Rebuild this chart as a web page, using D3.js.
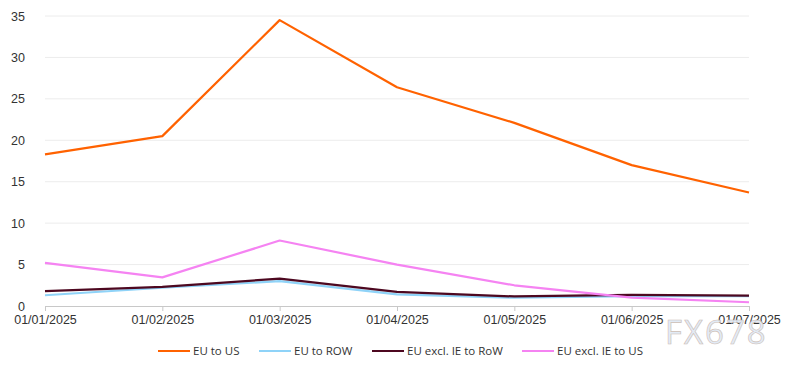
<!DOCTYPE html>
<html>
<head>
<meta charset="utf-8">
<script src="https://cdn.jsdelivr.net/npm/d3@7"></script>
<style>
  body { margin: 0; background: #fff; }
  svg { font-family: "Open Sans", "Noto Sans", sans-serif; }
</style>
</head>
<body>
<svg id="chart" width="793" height="368"></svg>
<script>
// month labels on the x axis
const months = ["01/01/2025", "01/02/2025", "01/03/2025", "01/04/2025", "01/05/2025", "01/06/2025", "01/07/2025"];
const yTicks = [0, 5, 10, 15, 20, 25, 30, 35];

const euToUs = [18.3, 20.5, 34.5, 26.4, 22.1, 17.0, 13.7];
const euToRow = [1.3, 2.2, 3.0, 1.4, 1.0, 1.2, 1.2];
const euExIeToRow = [1.8, 2.3, 3.3, 1.7, 1.15, 1.35, 1.25];
const euExIeToUs = [5.2, 3.45, 7.9, 5.0, 2.5, 1.0, 0.45];

const seriesNames = ["EU to US", "EU to ROW", "EU excl. IE to RoW", "EU excl. IE to US"];
const seriesColors = ["#ff6200", "#8fd3f8", "#4d0820", "#f583f2"];

const series = [euToUs, euToRow, euExIeToRow, euExIeToUs].map(function(vals, i) {
  return { name: seriesNames[i], color: seriesColors[i], values: vals };
});

const margin = { top: 16, right: 44, bottom: 62, left: 45 };
const svg = d3.select("#chart"),
  width = 793 - margin.left - margin.right,
  height = 368 - margin.top - margin.bottom,
  g = svg.append("g").attr("transform", "translate(" + margin.left + "," + margin.top + ")");

const x = d3.scalePoint().domain(months).range([0, width]);
const y = d3.scaleLinear().domain([0, 35]).range([height, 0]);

// horizontal grid
g.selectAll(".grid")
  .data(yTicks.filter(function(d) { return d > 0; }))
  .enter()
  .append("line")
  .attr("x1", 0)
  .attr("x2", width)
  .attr("y1", function(d) { return y(d); })
  .attr("y2", function(d) { return y(d); })
  .attr("stroke", "#ececec")
  .attr("stroke-width", 1);

// y labels
const yAxis = g.append("g")
  .call(d3.axisLeft(y).tickValues(yTicks).tickSize(0).tickPadding(20));
yAxis.select(".domain").remove();
yAxis.selectAll("text").attr("fill", "#333").style("font-size", "12.5px");

// x axis
const xAxis = g.append("g")
  .attr("transform", "translate(0," + height + ")")
  .call(d3.axisBottom(x).tickSizeInner(5).tickSizeOuter(0).tickPadding(4));
xAxis.select(".domain").attr("stroke", "#c8c8c8");
xAxis.selectAll(".tick line").attr("stroke", "#c8c8c8");
xAxis.selectAll("text").attr("fill", "#333").style("font-size", "12.5px");

const line = d3.line()
  .x(function(d, i) { return x(months[i]); })
  .y(function(d) { return y(d); });

g.selectAll(".series")
  .data(series)
  .enter()
  .append("path")
  .attr("fill", "none")
  .attr("stroke", function(d) { return d.color; })
  .attr("stroke-width", 2.2)
  .attr("stroke-linejoin", "round")
  .attr("d", function(d) { return line(d.values); });

// legend
const legendX = [158, 259, 372, 522];
const legend = svg.append("g").attr("transform", "translate(0,351)");
const item = legend.selectAll(".item")
  .data(series)
  .enter()
  .append("g")
  .attr("transform", function(d, i) { return "translate(" + legendX[i] + ",0)"; });
item.append("line")
  .attr("x1", 0).attr("x2", 32)
  .attr("stroke", function(d) { return d.color; })
  .attr("stroke-width", 2);
item.append("text")
  .attr("x", 35)
  .attr("dy", "0.35em")
  .attr("fill", "#333")
  .style("font-size", "11.5px")
  .text(function(d) { return d.name; });

// watermark
svg.append("text")
  .attr("x", 665)
  .attr("y", 344)
  .attr("fill", "#dfe9f6")
  .attr("stroke", "#c9b8ae")
  .attr("stroke-width", 0.6)
  .attr("opacity", 0.9)
  .style("font-size", "33px")
  .style("letter-spacing", "2px")
  .text("FX678");
</script>
</body>
</html>
